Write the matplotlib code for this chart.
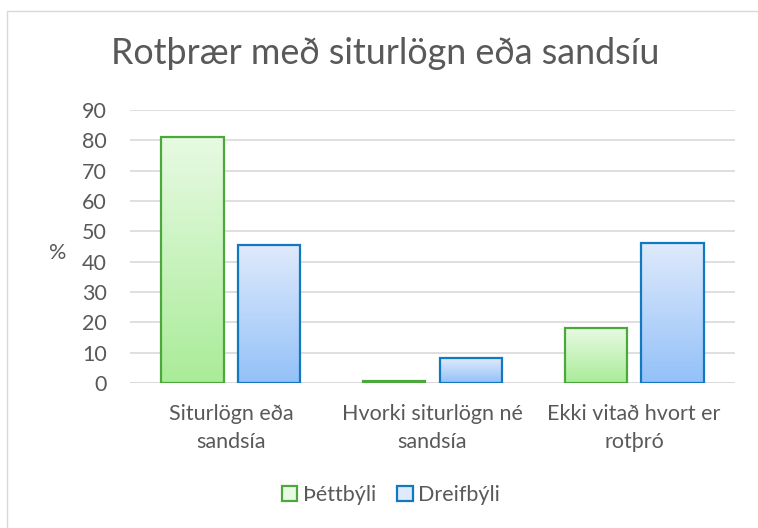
import numpy as np
import matplotlib
matplotlib.use("Agg")
import matplotlib.pyplot as plt
from matplotlib.colors import LinearSegmentedColormap
from matplotlib.patches import Rectangle

plt.rcParams['font.family'] = ['Lato', 'DejaVu Sans']

title = "Rotþrær með siturlögn eða sandsíu"
categories = ["Siturlögn eða\nsandsía", "Hvorki siturlögn né\nsandsía", "Ekki vitað hvort er\nrotþró"]
series_names = ["Þéttbýli", "Dreifbýli"]
thettbyli = [81.2, 0.7, 18.0]
dreifbyli = [45.4, 8.1, 46.3]
yticks = list(range(0, 91, 10))

edge_colors = ["#4aa93a", "#1278c0"]
grad_colors = [("#e8fae3", "#a9ec98"), ("#dfeafc", "#93c1f8")]
text_gray = "#595959"
fs = 15.5

fig = plt.figure(figsize=(7.58, 5.28), dpi=100)
ax = fig.add_axes([130/758, 1-383/528, (735-130)/758, (383-110)/528])

x = np.arange(len(categories))
width = 0.31
offset = 0.19
for i, (vals, name) in enumerate(zip([thettbyli, dreifbyli], series_names)):
    bars = ax.bar(x + (i*2-1)*offset, vals, width, facecolor="none",
                  edgecolor=edge_colors[i], linewidth=1.6, label=name, zorder=3)
    cmap = LinearSegmentedColormap.from_list("g%d" % i, [grad_colors[i][1], grad_colors[i][0]])
    grad = np.linspace(0, 1, 256).reshape(-1, 1)
    for b in bars:
        x0, y0, w, h = b.get_x(), b.get_y(), b.get_width(), b.get_height()
        im = ax.imshow(grad, cmap=cmap, aspect='auto', origin='lower',
                       extent=(x0, x0 + w, y0, y0 + h), zorder=2, interpolation='bicubic')
        im.set_clip_path(b)

ax.set_xlim(-0.5, 2.5)
ax.set_ylim(0, 90)
ax.set_yticks(yticks)
ax.set_xticks(x)
ax.set_xticklabels(categories, fontsize=fs, color=text_gray, linespacing=1.5)
ax.tick_params(axis='y', labelsize=fs, colors=text_gray, length=0, pad=16.5)
ax.tick_params(axis='x', length=0, pad=15)
ax.grid(axis='y', color="#d9d9d9", linewidth=1.2, zorder=0)
for s in ax.spines.values():
    s.set_visible(False)
ax.axhline(0, color="#d9d9d9", linewidth=1.2, zorder=1)

ax.set_ylabel("%", rotation=0, fontsize=fs, color=text_gray, va='center')
ax.yaxis.set_label_coords(-0.12, (383-253)/273)

fig.text(385/758, 1-54/528, title, ha='center', va='center', fontsize=25.8, color=text_gray)

handles = [Rectangle((0, 0), 1, 1, facecolor=grad_colors[i][0], edgecolor=edge_colors[i], linewidth=1.6)
           for i in range(2)]
leg = fig.legend(handles, series_names, loc='center', bbox_to_anchor=(391/758, 1-495/528), ncol=2,
                 frameon=False, fontsize=fs, handlelength=0.7, handleheight=0.7,
                 handletextpad=0.25, columnspacing=1.0)
for t in leg.get_texts():
    t.set_color(text_gray)

fig.patches.append(Rectangle((6.5/758, -0.1), 1.2, 1 - 11.5/528 + 0.1, transform=fig.transFigure,
                             fill=False, edgecolor="#d9d9d9", linewidth=1))

fig.savefig("out.png", dpi=100)
